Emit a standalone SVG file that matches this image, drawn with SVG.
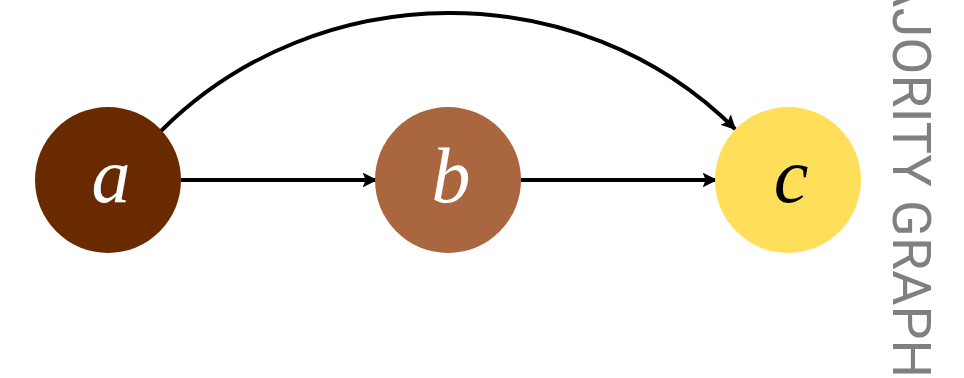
<svg xmlns="http://www.w3.org/2000/svg" width="964" height="378" viewBox="0 0 964 378">
<style>
.node-label{font-family:"Liberation Serif","DejaVu Serif",serif;font-style:italic;font-size:78px;text-anchor:middle}
.edge{fill:none;stroke:#000;stroke-width:3.9;marker-end:url(#arr)}
.title{font-family:Roboto,"Liberation Sans",sans-serif;font-weight:400;font-size:54px;fill:#808080}
</style>
<defs>
<marker id="arr" viewBox="0 0 10 10" refX="9" refY="5" markerWidth="3.8" markerHeight="3.8" orient="auto" markerUnits="strokeWidth">
<path d="M0,0 L10,5 L0,10 L2,5 Z" fill="#000"/>
</marker>
</defs>
<g id="edges">
<path class="edge" d="M181,180 L376,180"/>
<path class="edge" d="M521,180 L716,180"/>
<path class="edge" d="M161,131 C317,-25 579,-27 735,129"/>
</g>
<g id="node-a">
<circle cx="108" cy="180" r="73" fill="#692A00"/>
<text class="node-label" x="111" y="202" fill="#fff">a</text>
</g>
<g id="node-b">
<circle cx="448" cy="180" r="73" fill="#AA663F"/>
<text class="node-label" x="451" y="202" fill="#fff">b</text>
</g>
<g id="node-c">
<circle cx="788" cy="180" r="73" fill="#FFDF5A"/>
<text class="node-label" x="791" y="202" fill="#000">c</text>
</g>
<text class="title" transform="translate(893,378) rotate(90)" text-anchor="end">MAJORITY GRAPH</text>
</svg>
